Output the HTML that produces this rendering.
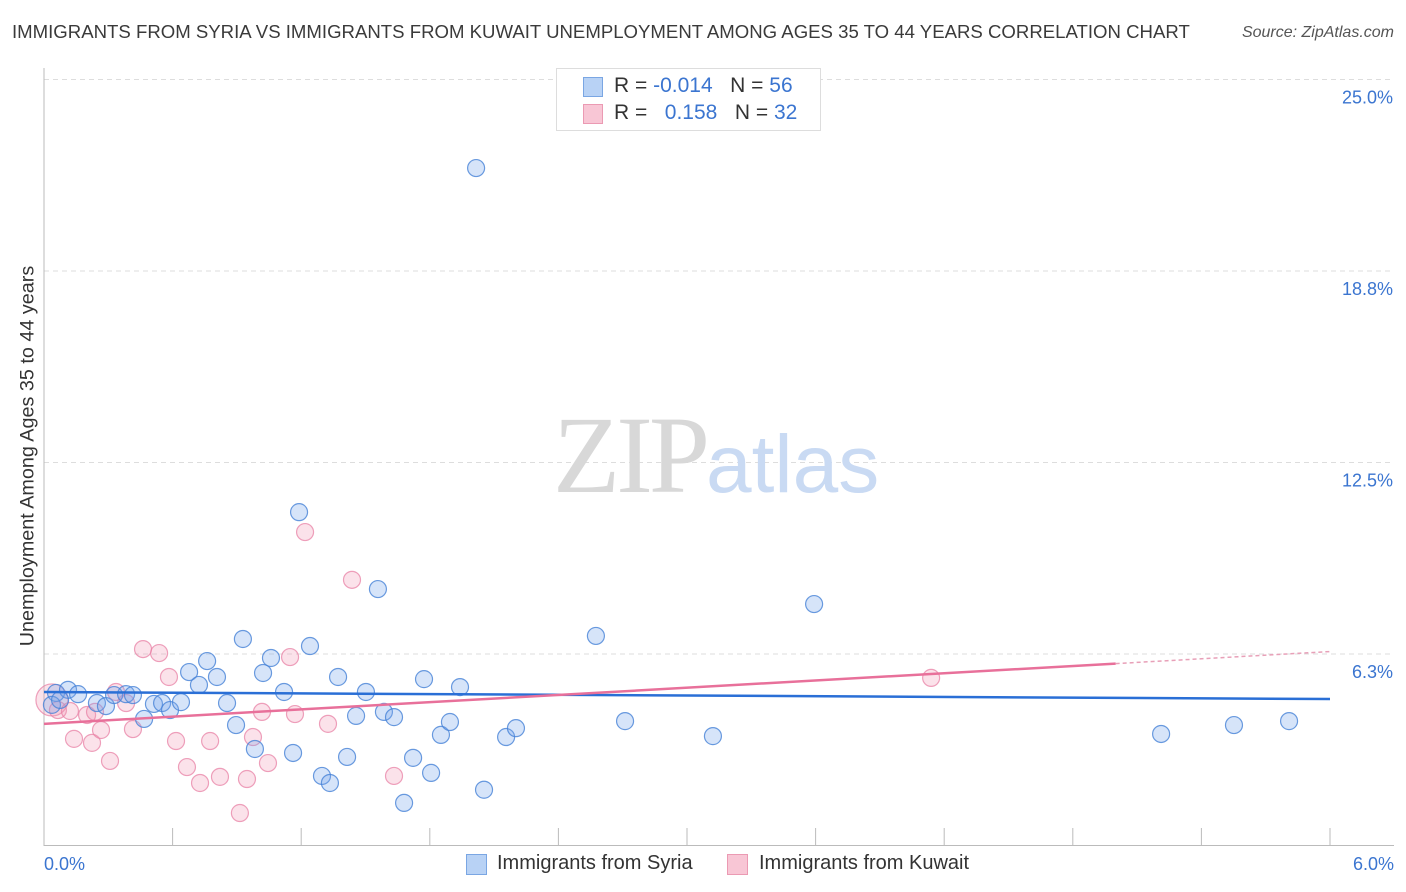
<!DOCTYPE html>
<html><head><meta charset="utf-8"><style>
body{margin:0;background:#fff;font-family:"Liberation Sans",sans-serif}
#c{position:relative;width:1406px;height:892px;overflow:hidden}
.t{position:absolute;white-space:nowrap}
</style></head><body>
<div id="c">
<div class="t" style="left:12px;top:21px;font-size:18.6px;color:#3a3a3a">IMMIGRANTS FROM SYRIA VS IMMIGRANTS FROM KUWAIT UNEMPLOYMENT AMONG AGES 35 TO 44 YEARS CORRELATION CHART</div>
<div class="t" style="right:12px;top:24px;font-size:16px;color:#555;font-style:italic">Source: ZipAtlas.com</div>
<svg id="s" width="1406" height="892" style="position:absolute;left:0;top:0"></svg>
<div class="t" style="left:28px;top:456px;font-size:19.8px;color:#333;transform:translate(-50%,-50%) rotate(-90deg)">Unemployment Among Ages 35 to 44 years</div>
<div style="position:absolute;left:556px;top:68px;width:263px;height:61px;border:1px solid #ddd;background:#fff;font-size:21px">
 <div style="position:absolute;left:26px;top:8px;width:18px;height:18px;background:#b8d2f5;border:1px solid #7aa6e3"></div>
 <div class="t" style="left:57px;top:5px;color:#333">R = <span style="color:#3b75d0">-0.014</span>&nbsp;&nbsp;&nbsp;N = <span style="color:#3b75d0">56</span></div>
 <div style="position:absolute;left:26px;top:35px;width:18px;height:18px;background:#f8c6d5;border:1px solid #eb9ab3"></div>
 <div class="t" style="left:57px;top:32px;color:#333">R = &nbsp;&nbsp;<span style="color:#3b75d0">0.158</span>&nbsp;&nbsp;&nbsp;N = <span style="color:#3b75d0">32</span></div>
</div>
<div class="t" style="left:553px;top:392px;font-size:110px;font-family:'Liberation Serif',serif;color:#d8d8d8;letter-spacing:-4px">ZIP<span style="font-family:'Liberation Sans',sans-serif;color:#c9daf3;font-size:82px;letter-spacing:0">atlas</span></div>
<div>
 <div style="position:absolute;left:466px;top:854px;width:19px;height:19px;background:#b8d2f5;border:1px solid #7aa6e3"></div>
 <div class="t" style="left:497px;top:852px;font-size:20px;color:#333">Immigrants from Syria</div>
 <div style="position:absolute;left:727px;top:854px;width:19px;height:19px;background:#f8c6d5;border:1px solid #eb9ab3"></div>
 <div class="t" style="left:759px;top:852px;font-size:20px;color:#333">Immigrants from Kuwait</div>
</div>
</div>
<script>
const yTicks=[25.0,18.8,12.5,6.3];
const yTickVals=[25,18.75,12.5,6.25];
const xTickLabels=["0.0%","6.0%"];
const syriaX=[0.056,0.037,0.112,0.159,0.247,0.289,0.327,0.383,0.415,0.467,0.513,0.551,0.588,0.639,0.677,0.723,0.761,0.807,0.854,0.896,0.928,0.984,1.022,1.059,1.120,1.162,1.190,1.241,1.297,1.334,1.372,1.414,1.456,1.502,1.558,1.586,1.633,1.680,1.722,1.773,1.806,1.852,1.894,1.941,2.016,2.053,2.156,2.202,2.575,2.711,3.121,3.593,5.212,5.552,5.809,0.075];
const syriaY=[4.98,4.59,5.08,4.94,4.65,4.55,4.91,4.94,4.91,4.13,4.62,4.65,4.42,4.68,5.66,5.24,6.02,5.50,4.65,3.93,6.74,3.15,5.63,6.12,5.01,3.02,10.88,6.51,2.27,2.04,5.50,2.89,4.23,5.01,8.37,4.36,4.19,1.39,2.86,5.43,2.37,3.61,4.03,5.17,22.11,1.82,3.54,3.83,6.84,4.06,3.57,7.88,3.64,3.93,4.06,4.75];
const kuwaitX=[0.037,0.065,0.121,0.201,0.238,0.140,0.224,0.266,0.308,0.336,0.383,0.415,0.462,0.537,0.583,0.616,0.667,0.728,0.775,0.821,0.914,0.947,0.975,1.017,1.045,1.148,1.171,1.218,1.325,1.437,1.633,4.139];
const kuwaitY=[4.75,4.42,4.39,4.26,4.36,3.48,3.35,3.77,2.76,5.01,4.65,3.80,6.41,6.28,5.50,3.41,2.56,2.04,3.41,2.24,1.06,2.17,3.54,4.36,2.69,6.15,4.29,10.23,3.97,8.67,2.27,5.47];
const syriaTrend=[5.01,4.78];
const kuwaitTrend=[3.97,6.33];
const kuwaitSolidEnd=5.0;
const X0=44,X1=1330,Y0=845.5,YP=30.64;
const sx=v=>X0+(X1-X0)*v/6;
const sy=v=>Y0-v*YP;
const s=document.getElementById('s');
const NS='http://www.w3.org/2000/svg';
function mk(tag,attrs){const e=document.createElementNS(NS,tag);for(const k in attrs)e.setAttribute(k,attrs[k]);s.appendChild(e);return e;}
yTickVals.forEach((v,i)=>{
 const g=mk('line',{x1:X0,x2:1394,y1:sy(v),y2:sy(v),stroke:'#ddd','stroke-dasharray':'5,4'});
 
 
 const t=mk('text',{x:1393,y:sy(v)+24,'text-anchor':'end','font-size':18,fill:'#3b75d0','font-family':'Liberation Sans, sans-serif'});
 t.textContent=yTicks[i].toFixed(1)+'%';
 
 
});
let a=mk('line',{x1:X0,x2:X0,y1:68,y2:846,stroke:'#bbb'});


a=mk('line',{x1:X0,x2:1394,y1:845.5,y2:845.5,stroke:'#bbb'});


for(let i=1;i<=10;i++){const t=mk('line',{x1:sx(i*0.6),x2:sx(i*0.6),y1:828,y2:845,stroke:'#bbb'});
 
 }
[[0,'start',44],[6,'end',1394]].forEach((d,i)=>{const t=mk('text',{x:d[2],y:870,'text-anchor':d[1],'font-size':18,fill:'#3b75d0','font-family':'Liberation Sans, sans-serif'});
 t.textContent=xTickLabels[i];
 
 });
kuwaitX.forEach((x,i)=>{const c=mk('circle',{cx:sx(x),cy:sy(kuwaitY[i]),r:i==0?16:8.5,fill:'rgba(242,150,180,0.28)',stroke:'rgba(232,130,165,0.75)','stroke-width':1.2});
 
 });
syriaX.forEach((x,i)=>{const c=mk('circle',{cx:sx(x),cy:sy(syriaY[i]),r:8.5,fill:'rgba(120,165,235,0.3)',stroke:'rgba(70,130,215,0.8)','stroke-width':1.2});
 
 });
let l=mk('line',{x1:sx(0),x2:sx(6),y1:sy(syriaTrend[0]),y2:sy(syriaTrend[1]),stroke:'#2a6fd6','stroke-width':2.5});


const kAt=x=>kuwaitTrend[0]+(kuwaitTrend[1]-kuwaitTrend[0])*x/6;
l=mk('line',{x1:sx(0),x2:sx(kuwaitSolidEnd),y1:sy(kAt(0)),y2:sy(kAt(kuwaitSolidEnd)),stroke:'#e8709a','stroke-width':2.5});


l=mk('line',{x1:sx(kuwaitSolidEnd),x2:sx(6),y1:sy(kAt(kuwaitSolidEnd)),y2:sy(kAt(6)),stroke:'#e8a0b8','stroke-width':1.5,'stroke-dasharray':'4,3'});


</script>
</body></html>
